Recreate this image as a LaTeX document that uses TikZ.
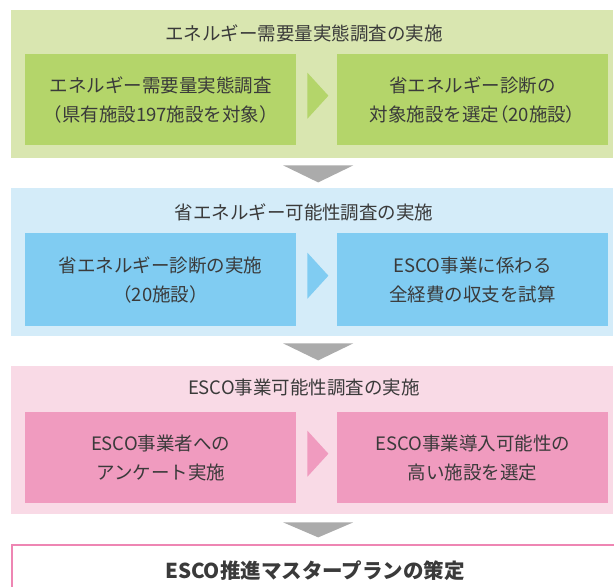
\documentclass[tikz,border=0pt]{standalone}
\usepackage{fontspec}
\setmainfont{Noto Sans CJK JP}
\newfontfamily\paltfont[RawFeature=+palt]{Noto Sans CJK JP}
\usetikzlibrary{calc}
\definecolor{glight}{HTML}{D9E6B0}
\definecolor{ginner}{HTML}{B4D56A}
\definecolor{blight}{HTML}{D4ECF9}
\definecolor{binner}{HTML}{80CCF2}
\definecolor{plight}{HTML}{F9DAE6}
\definecolor{pinner}{HTML}{F09BBF}
\definecolor{arrgray}{HTML}{ABABAB}
\definecolor{pborder}{HTML}{EE86B3}
\definecolor{txt}{HTML}{3A3A3A}
\tikzset{
  panel/.style={anchor=north west, inner sep=0pt, minimum width=602pt, minimum height=148pt},
  inbox/.style={anchor=north west, inner sep=0pt, minimum width=271pt, align=center, text=txt,
    font=\fontsize{18.5pt}{29pt}\selectfont},
  ptitle/.style={text=txt, font=\fontsize{18.5pt}{22pt}\selectfont, inner sep=0pt},
  downarrow/.style={fill=arrgray},
}
\begin{document}
\begin{tikzpicture}[x=1pt,y=-1pt]
\useasboundingbox (0,0) rectangle (614,587);
\clip (0,0) rectangle (614,587);
% panel 1
\node[panel, fill=glight] (p1) at (11,10) {};
\node[ptitle] (t1) at (304,33) {エネルギー需要量実態調査の実施};
\node[inbox, fill=ginner, minimum height=91pt] (a1) at (25,54) {エネルギー需要量実態調査\\（県有施設197施設を対象）};
\node[inbox, fill=ginner, minimum height=91pt] (b1) at (337,54) {省エネルギー診断の\\対象施設を選定{\paltfont （}20施設{\paltfont ）}};
\fill[ginner] ($(a1.east)+(11,-27)$) -- ($(a1.east)+(32,-4)$) -- ($(a1.east)+(11,19)$) -- cycle;
% panel 2
\node[panel, fill=blight] (p2) at (11,188) {};
\node[ptitle] (t2) at (304,212) {省エネルギー可能性調査の実施};
\node[inbox, fill=binner, minimum height=93pt] (a2) at (25,233) {省エネルギー診断の実施\\（20施設）};
\node[inbox, fill=binner, minimum height=93pt] (b2) at (337,233) {ESCO事業に係わる\\全経費の収支を試算};
\fill[binner] ($(a2.east)+(11,-27)$) -- ($(a2.east)+(32,-4)$) -- ($(a2.east)+(11,19)$) -- cycle;
% panel 3
\node[panel, fill=plight] (p3) at (11,366) {};
\node[ptitle] (t3) at (304,388) {ESCO事業可能性調査の実施};
\node[inbox, fill=pinner, minimum height=91pt] (a3) at (25,412) {ESCO事業者への\\アンケート実施};
\node[inbox, fill=pinner, minimum height=91pt] (b3) at (337,412) {ESCO事業導入可能性の\\高い施設を選定};
\fill[pinner] ($(a3.east)+(11,-27)$) -- ($(a3.east)+(32,-4)$) -- ($(a3.east)+(11,19)$) -- cycle;
% final
\node[anchor=north west, draw=pborder, line width=2pt, fill=white, minimum width=620pt, minimum height=70pt, inner sep=0pt] (f) at (11,544) {};
\node[text=txt, font=\fontsize{20.5pt}{24pt}\selectfont\bfseries, inner sep=0pt] (ft) at (315,571) {ESCO推進マスタープランの策定};
% down arrows
\fill[downarrow] ($(p1.south)+(-29,7)$) -- ($(p1.south)+(41,7)$) -- ($(p1.south)+(6,24)$) -- cycle;
\fill[downarrow] ($(p2.south)+(-29,7)$) -- ($(p2.south)+(41,7)$) -- ($(p2.south)+(6,24)$) -- cycle;
\fill[downarrow] ($(p3.south)+(-29,8)$) -- ($(p3.south)+(41,8)$) -- ($(p3.south)+(6,23)$) -- cycle;
\end{tikzpicture}
\end{document}
